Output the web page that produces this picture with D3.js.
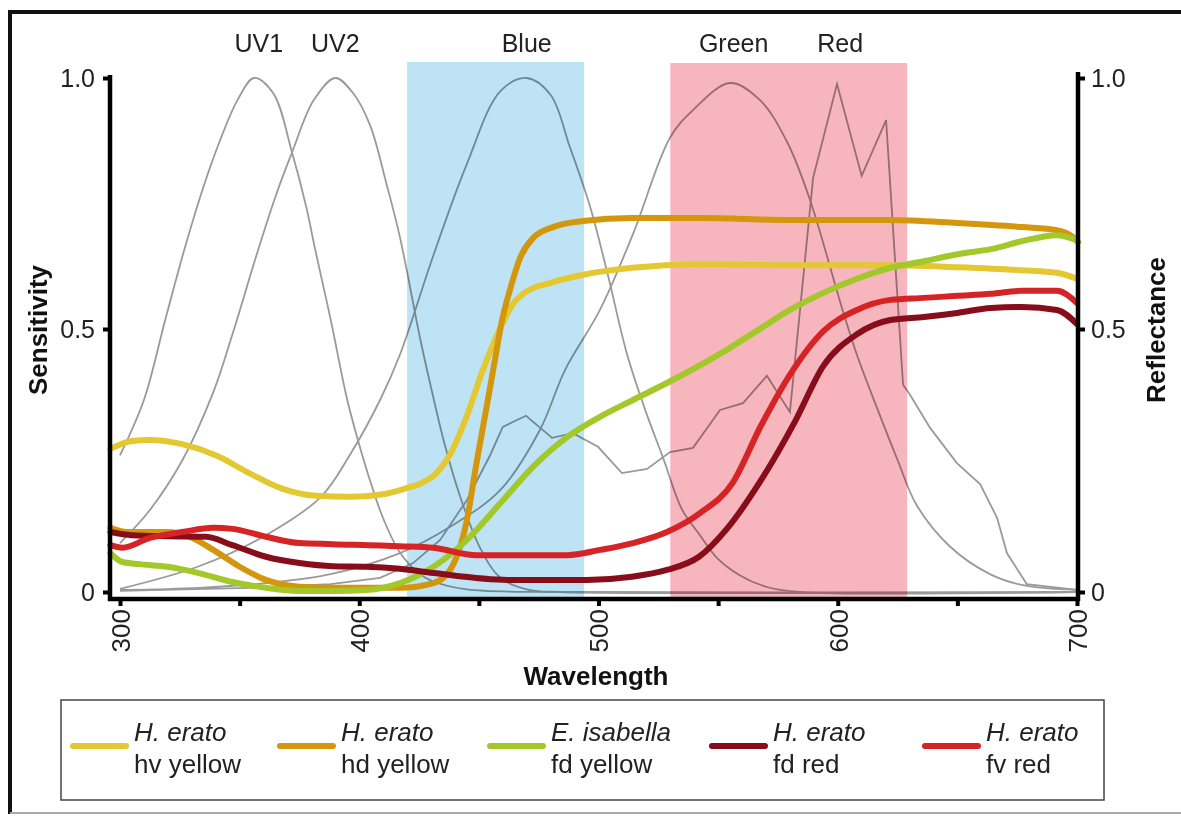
<!DOCTYPE html>
<html><head><meta charset="utf-8">
<script src="https://cdn.jsdelivr.net/npm/d3@7"></script>
<style>
body{margin:0;background:#fff}
svg{display:block}
text{font-family:"Liberation Sans",Arial,Helvetica,sans-serif}
</style>
</head><body>
<svg id="chart" width="1181" height="816"></svg>
<script>
// ---------- DATA ----------
const majorTicks = [300, 400, 500, 600, 700];
const allXTicks = [300, 350, 400, 450, 500, 550, 600, 650, 700];
const yTickValues = [0, 0.5, 1];
const yTickLabels = ["0", "0.5", "1.0"];

const bandBlue = [420, 494];
const bandRed = [530, 629];

const receptorNames = ["UV1", "UV2", "Blue", "Green", "Red"];
const receptorPeaks = [358, 390, 470, 556.5, 601];

// photoreceptor sensitivity curves: [wavelength, sensitivity]
const uv1 = [[300,0.26],[310,0.365],[319,0.52],[327,0.66],[335,0.785],[342,0.878],[349,0.955],[356,1.0],[364,0.97],[372,0.85],[378,0.74],[381.5,0.66],[388,0.52],[395,0.365],[400,0.28],[405,0.205],[410,0.14],[417,0.075],[425,0.035],[431,0.02],[445,0.005],[500,0],[700,0]];
const uv2 = [[300,0.093],[312.5,0.156],[326,0.25],[339,0.38],[347,0.49],[357.7,0.657],[365.5,0.771],[372,0.853],[381,0.956],[390,1.0],[397.4,0.97],[404.5,0.906],[411.5,0.787],[417,0.683],[425.4,0.483],[429.6,0.397],[435.8,0.279],[442,0.184],[450.5,0.084],[459,0.027],[471,0.004],[484,0],[700,0]];
const blue = [[300,0.006],[333,0.049],[361,0.108],[384,0.181],[396,0.26],[408.7,0.365],[417,0.451],[431,0.647],[445,0.829],[459,0.974],[470,1.0],[480,0.966],[488,0.863],[496.4,0.745],[503.6,0.614],[512,0.451],[520,0.34],[527,0.255],[535,0.156],[542.4,0.108],[549.5,0.065],[559,0.032],[570,0.01],[584,0],[700,0]];
const green = [[300,0.004],[333,0.008],[361,0.017],[388,0.034],[417,0.074],[438,0.124],[459,0.194],[475.5,0.308],[486,0.422],[500.6,0.538],[514.4,0.689],[530,0.882],[539.5,0.936],[555,0.99],[567.5,0.956],[579,0.871],[588.4,0.757],[602,0.538],[608,0.451],[616.4,0.35],[625,0.251],[633,0.165],[647,0.086],[663.6,0.034],[677.4,0.013],[700,0.004]];
const red = [[300,0.002],[354,0.008],[388,0.015],[408.7,0.027],[422.5,0.055],[433.8,0.099],[445,0.175],[454.7,0.26],[460,0.314],[469.7,0.335],[480.6,0.293],[489.3,0.302],[499.8,0.276],[509.8,0.226],[520.3,0.234],[529.9,0.266],[539.5,0.274],[550.8,0.346],[560.4,0.359],[570.4,0.411],[580,0.342],[589.7,0.801],[599.7,0.988],[610,0.805],[620.2,0.916],[627.3,0.394],[630.2,0.375],[638.6,0.312],[649.8,0.245],[659.5,0.205],[666.6,0.141],[670.7,0.074],[679,0.015],[700,0.004]];

// wing reflectance curves: [wavelength, reflectance]
const hvYellow = [[296,0.272],[305,0.287],[312.5,0.289],[326,0.281],[340.5,0.259],[354,0.226],[368,0.196],[382,0.183],[396,0.181],[410,0.186],[420,0.198],[426,0.207],[432,0.225],[438,0.262],[445,0.335],[451.5,0.42],[458.8,0.5],[464,0.548],[470,0.575],[480,0.592],[493.5,0.608],[514,0.622],[542,0.629],[580,0.627],[622,0.627],[650,0.623],[677,0.617],[691.6,0.612],[700,0.6]];
const hdYellow = [[296,0.122],[303,0.114],[320,0.114],[329,0.105],[339,0.08],[350,0.048],[361,0.023],[375,0.01],[389,0.008],[417,0.008],[431,0.017],[438,0.042],[445,0.137],[449,0.245],[453.4,0.356],[456.7,0.441],[459.7,0.518],[463,0.578],[467.2,0.641],[472.6,0.681],[481,0.703],[493.5,0.715],[514,0.721],[542,0.721],[580,0.717],[622,0.717],[650,0.711],[677,0.703],[691.6,0.697],[698.3,0.683],[700.4,0.673]];
const fdYellowIsabella = [[296,0.074],[301,0.057],[308,0.053],[320,0.048],[333,0.036],[347,0.019],[361,0.008],[375,0.002],[389,0.002],[403,0.004],[417,0.017],[431,0.048],[445,0.099],[459,0.169],[472.6,0.238],[487,0.295],[500.6,0.333],[514.4,0.365],[531,0.403],[552,0.456],[566,0.496],[580,0.538],[594,0.572],[608,0.6],[622,0.622],[636,0.635],[650,0.649],[664,0.659],[677,0.675],[691.6,0.687],[700,0.677]];
const fdRed = [[296,0.114],[305,0.108],[320,0.106],[336,0.105],[347,0.089],[361,0.067],[375,0.055],[389,0.049],[403,0.048],[417,0.044],[431,0.036],[462,0.023],[495,0.023],[514,0.029],[528.6,0.042],[542,0.067],[554,0.122],[568,0.213],[582,0.323],[594,0.43],[608,0.49],[622,0.518],[636,0.524],[650,0.532],[664,0.542],[677,0.544],[691.6,0.538],[700,0.51]];
const fvRed = [[296,0.089],[301,0.084],[312.5,0.103],[326,0.114],[339,0.122],[347,0.12],[361,0.105],[375,0.093],[389,0.091],[417,0.087],[431,0.084],[449,0.07],[487,0.07],[500.6,0.08],[514.4,0.093],[528.6,0.114],[542.4,0.15],[556,0.207],[568,0.317],[580,0.413],[594,0.496],[608,0.538],[622,0.558],[636,0.562],[650,0.566],[664,0.57],[677,0.576],[691.6,0.576],[700,0.552]];

const legendSpecies = ["H. erato", "H. erato", "E. isabella", "H. erato", "H. erato"];
const legendPattern = ["hv yellow", "hd yellow", "fd yellow", "fd red", "fv red"];

// ---------- LAYOUT / STYLE ----------
const reflSeries = [hvYellow, hdYellow, fdYellowIsabella, fdRed, fvRed];
const reflColors = ["#e3c832", "#d4960c", "#a2c82a", "#870d1a", "#d62326"];
const legendX = [73, 280, 490, 712, 925];

const svg = d3.select("#chart");
const x = d3.scaleLinear().domain([300, 700]).range([120, 1077]);
const y = d3.scaleLinear().domain([0, 0.5, 1]).range([592, 329, 78]);

// outer frame
svg.append("line").attr("x1", 10).attr("y1", 12).attr("x2", 1181).attr("y2", 12).attr("stroke", "#111").attr("stroke-width", 4);
svg.append("line").attr("x1", 10).attr("y1", 10).attr("x2", 10).attr("y2", 814).attr("stroke", "#111").attr("stroke-width", 4);
svg.append("line").attr("x1", 10).attr("y1", 813).attr("x2", 1181).attr("y2", 813).attr("stroke", "#aaa").attr("stroke-width", 2);

// colour bands
svg.append("rect").attr("x", x(bandBlue[0])).attr("width", x(bandBlue[1]) - x(bandBlue[0]))
  .attr("y", 62).attr("height", 597 - 62).attr("fill", "#bde3f4");
svg.append("rect").attr("x", x(bandRed[0])).attr("width", x(bandRed[1]) - x(bandRed[0]))
  .attr("y", 63).attr("height", 597 - 63).attr("fill", "#f7b5bd");

// sensitivity curves
const bell = d3.line().x(d => x(d[0])).y(d => y(d[1])).curve(d3.curveCatmullRom.alpha(0.5));
const smooth = d3.line().x(d => x(d[0])).y(d => y(d[1])).curve(d3.curveMonotoneX);
const straight = d3.line().x(d => x(d[0])).y(d => y(d[1]));
const gray = svg.append("g").attr("fill", "none").attr("stroke", "#9a9a9a").attr("stroke-width", 1.8)
  .style("mix-blend-mode", "multiply");
[uv1, uv2, blue, green].forEach(s => gray.append("path").attr("d", bell(s)));
gray.append("path").attr("d", straight(red)).attr("stroke-linejoin", "miter");

// receptor labels
svg.append("g").selectAll("text").data(receptorNames).join("text")
  .attr("x", (d, i) => x(receptorPeaks[i])).attr("y", 52)
  .attr("text-anchor", "middle").attr("font-size", 25).attr("fill", "#222").text(d => d);

// reflectance curves
const refl = svg.append("g").attr("fill", "none").attr("stroke-width", 6).attr("stroke-linecap", "round");
reflSeries.forEach((s, i) => refl.append("path").attr("d", smooth(s)).attr("stroke", reflColors[i]));

// axes lines
svg.append("line").attr("x1", 110).attr("y1", 75).attr("x2", 110).attr("y2", 601).attr("stroke", "#000").attr("stroke-width", 4.5);
svg.append("line").attr("x1", 1078).attr("y1", 72).attr("x2", 1078).attr("y2", 601).attr("stroke", "#000").attr("stroke-width", 4.5);
svg.append("line").attr("x1", 108).attr("y1", 599).attr("x2", 1080).attr("y2", 599).attr("stroke", "#000").attr("stroke-width", 4.5);

function styleAxis(g) {
  g.select(".domain").remove();
  g.selectAll(".tick line").attr("stroke", "#000").attr("stroke-width", 4);
  g.selectAll(".tick text").attr("font-size", 25).attr("fill", "#222")
    .attr("font-family", "Liberation Sans, Arial, sans-serif");
}
const fmtY = v => yTickLabels[yTickValues.indexOf(v)];
svg.append("g").attr("transform", "translate(110,0)")
  .call(d3.axisLeft(y).tickValues(yTickValues).tickFormat(fmtY).tickSize(7).tickPadding(8)).call(styleAxis);
svg.append("g").attr("transform", "translate(1078,0)")
  .call(d3.axisRight(y).tickValues(yTickValues).tickFormat(fmtY).tickSize(7).tickPadding(6)).call(styleAxis);

const xg = svg.append("g").attr("transform", "translate(0,599)")
  .call(d3.axisBottom(x).tickValues(allXTicks).tickFormat(d => majorTicks.includes(d) ? d : "").tickSize(7))
  .call(styleAxis);
xg.selectAll(".tick text").attr("font-size", 26)
  .attr("transform", "rotate(-90)").attr("text-anchor", "end")
  .attr("x", -10).attr("y", 0).attr("dy", "0.36em");

// axis titles
svg.append("text").attr("x", 596).attr("y", 685).attr("text-anchor", "middle")
  .attr("font-size", 26).attr("font-weight", "bold").attr("fill", "#111").text("Wavelength");
svg.append("text").attr("transform", "translate(47,330) rotate(-90)").attr("text-anchor", "middle")
  .attr("font-size", 26).attr("font-weight", "bold").attr("fill", "#111").text("Sensitivity");
svg.append("text").attr("transform", "translate(1165,330) rotate(-90)").attr("text-anchor", "middle")
  .attr("font-size", 26).attr("font-weight", "bold").attr("fill", "#111").text("Reflectance");

// legend
svg.append("rect").attr("x", 61).attr("y", 700).attr("width", 1104 - 61).attr("height", 100)
  .attr("fill", "none").attr("stroke", "#444").attr("stroke-width", 1.5);
const leg = svg.append("g").selectAll("g").data(legendSpecies).join("g")
  .attr("transform", (d, i) => `translate(${legendX[i]},0)`);
leg.append("line").attr("x1", 0).attr("x2", 53).attr("y1", 746).attr("y2", 746)
  .attr("stroke", (d, i) => reflColors[i]).attr("stroke-width", 6).attr("stroke-linecap", "round");
leg.append("text").attr("x", 61).attr("y", 741).attr("font-size", 26).attr("font-style", "italic")
  .attr("fill", "#222").text(d => d);
leg.append("text").attr("x", 61).attr("y", 773).attr("font-size", 26)
  .attr("fill", "#222").text((d, i) => legendPattern[i]);
</script>
</body></html>
